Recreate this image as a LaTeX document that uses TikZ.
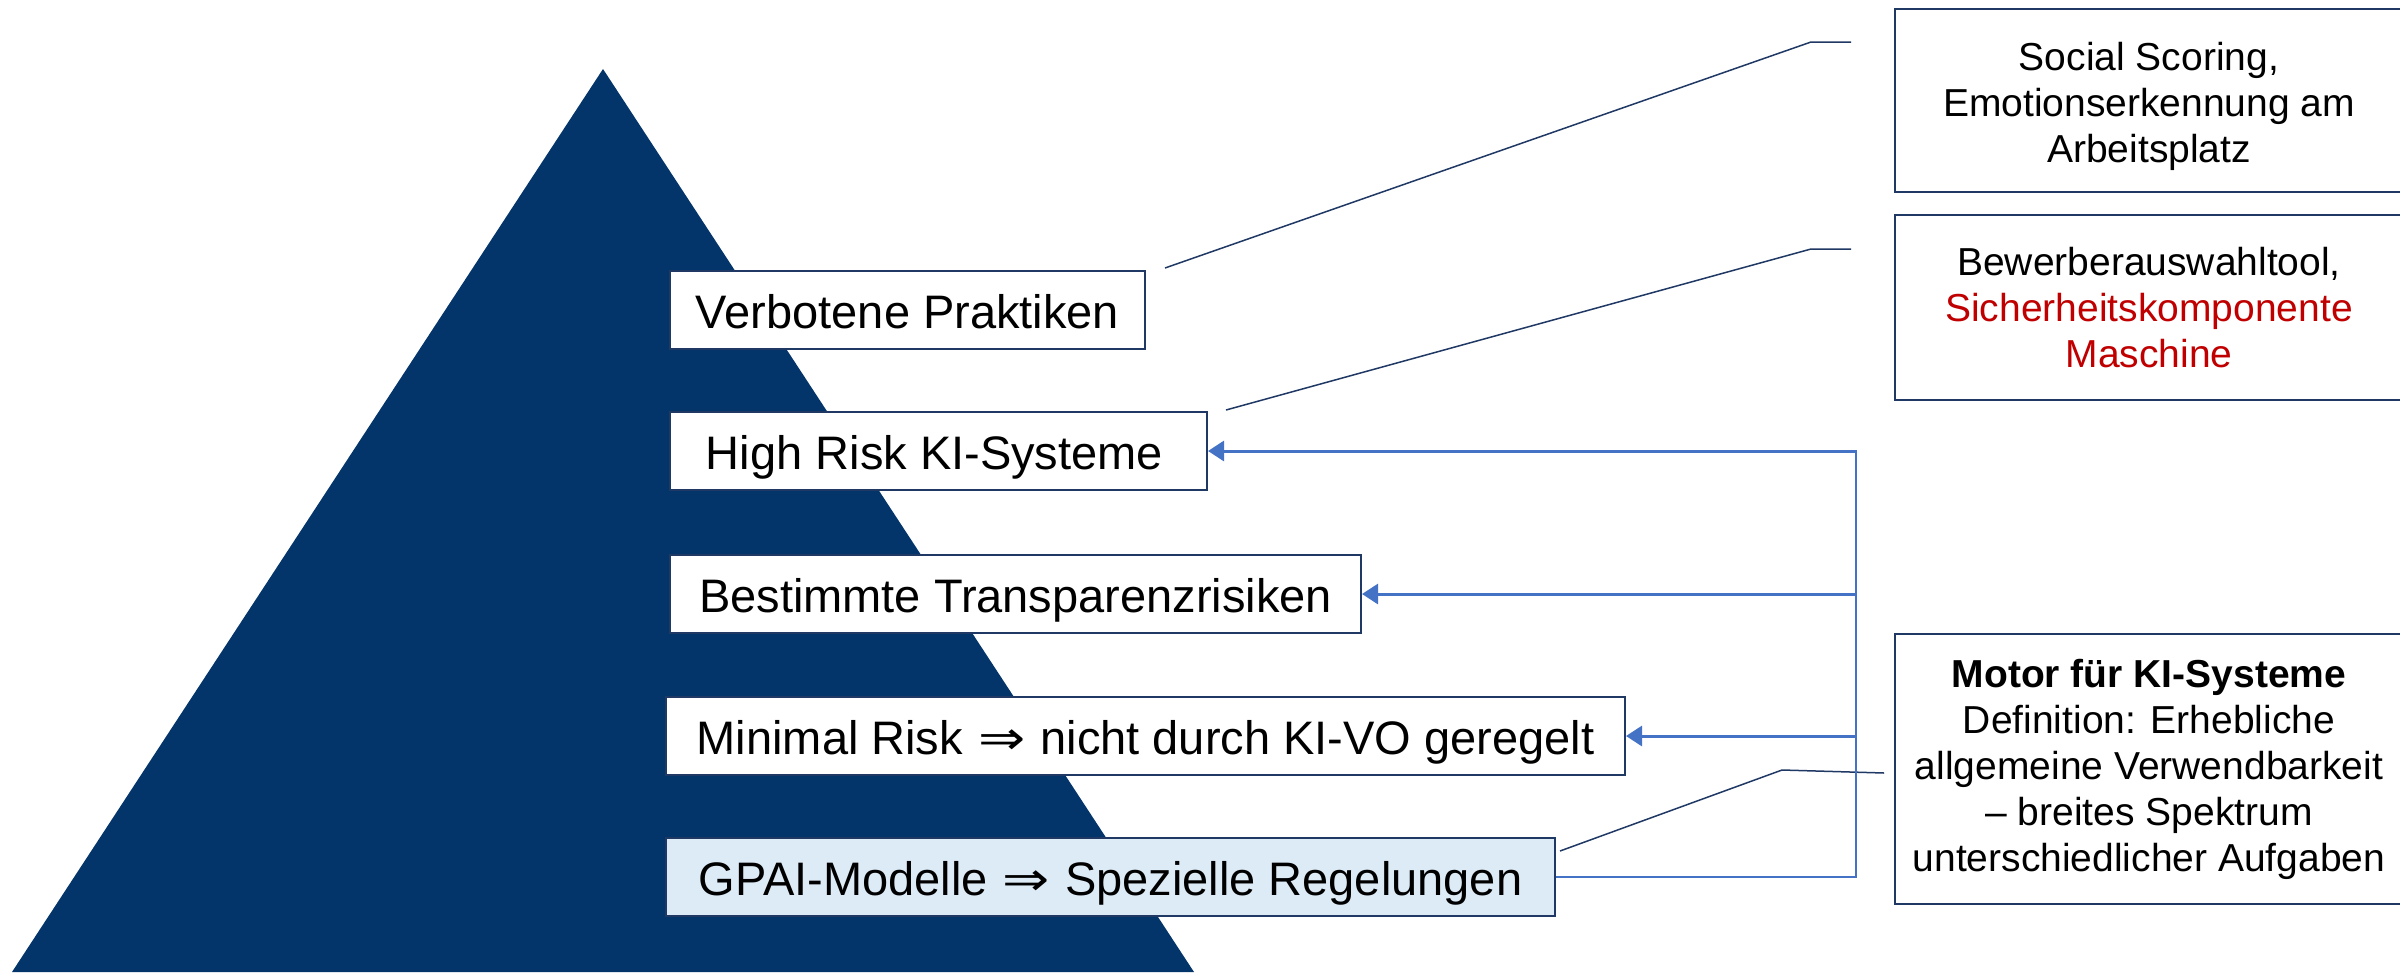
\documentclass[tikz,border=0pt]{standalone}
\usepackage{graphicx}
\usepackage{fontspec}
\setmainfont{Liberation Sans}
\newfontfamily\arrowfont{DejaVu Sans}
\usetikzlibrary{arrows.meta,calc}
\definecolor{pyr}{RGB}{3,52,106}
\definecolor{edge}{RGB}{32,56,100}
\definecolor{gpai}{RGB}{221,235,247}
\definecolor{alert}{RGB}{192,0,0}
\definecolor{link}{RGB}{68,114,196}
\newcommand{\implies}{\hspace{2pt}\scalebox{1.2}[1]{\arrowfont ⇒}\hspace{2pt}}
\begin{document}
\begin{tikzpicture}[x=1pt,y=-1pt,
  tier/.style={draw=edge, line width=2pt, fill=white, anchor=north west,
    inner xsep=10pt, inner ysep=0pt, minimum height=78pt,
    font=\fontsize{47}{56}\selectfont, text height=40pt, text depth=4pt},
  note/.style={draw=edge, line width=2pt, fill=white, anchor=north west,
    align=center, inner sep=0pt, minimum width=508pt,
    font=\fontsize{39}{46}\selectfont},
  callout/.style={draw=edge, line width=1.5pt},
  feed/.style={draw=link, line width=1.5pt},
  feedarrow/.style={draw=link, line width=3pt, -{Triangle[length=16pt,width=20pt]}},
]
\useasboundingbox (0,0) rectangle (2400,972);

% pyramid
\fill[pyr] (603,69) -- (1194,972) -- (12,972) -- cycle;

% risk tiers
\node[tier, minimum width=475pt] (t1) at (669,270) {Verbotene Praktiken};
\node[tier, minimum width=537pt] (t2) at (669,411) {\hspace*{-8pt}High Risk KI-Systeme};
\node[tier, minimum width=691pt] (t3) at (669,554) {Bestimmte Transparenzrisiken};
\node[tier, minimum width=959pt] (t4) at (665,696) {Minimal Risk \implies{} nicht durch KI-VO geregelt};
\node[tier, minimum width=889pt, fill=gpai] (t5) at (665,837) {GPAI-Modelle \implies{} Spezielle Regelungen};

% examples
\node[note, minimum height=183pt] (n1) at (1894,8)
  {\rule{0pt}{40pt}Social Scoring,\\Emotionserkennung am\\Arbeitsplatz};
\node[note, minimum height=185pt] (n2) at (1894,214)
  {Bewerberauswahltool,\\\textcolor{alert}{Sicherheitskomponente}\\\textcolor{alert}{Maschine}};
\node[note, minimum height=270pt] (n3) at (1894,633)
  {\textbf{Motor für KI-Systeme}\\Definition: Erhebliche\\allgemeine Verwendbarkeit\\– breites Spektrum\\unterschiedlicher Aufgaben};

% callout leaders
\coordinate (c1s) at (1165,268);
\coordinate (c1k) at (1811,42);
\coordinate (c1e) at (1851,42);
\coordinate (c2s) at (1226,410);
\coordinate (c2k) at (1811,249);
\coordinate (c2e) at (1851,249);
\coordinate (c3s) at (1560,851);
\coordinate (c3k) at (1782,770);
\coordinate (c3e) at (1884,773);
\draw[callout] (c1s) -- (c1k) -- (c1e);
\draw[callout] (c2s) -- (c2k) -- (c2e);
\draw[callout] (c3s) -- (c3k) -- (c3e);

% GPAI feeds into the other tiers
\coordinate (bust) at (1856,450);
\coordinate (busb) at (1856,874);
\draw[feed] (t5.east) -- (busb |- t5.east) -- (bust);
\draw[feedarrow] (bust |- t2.east) -- (t2.east);
\draw[feedarrow] (bust |- t3.east) -- (t3.east);
\draw[feedarrow] (bust |- t4.east) -- (t4.east);
\end{tikzpicture}
\end{document}
